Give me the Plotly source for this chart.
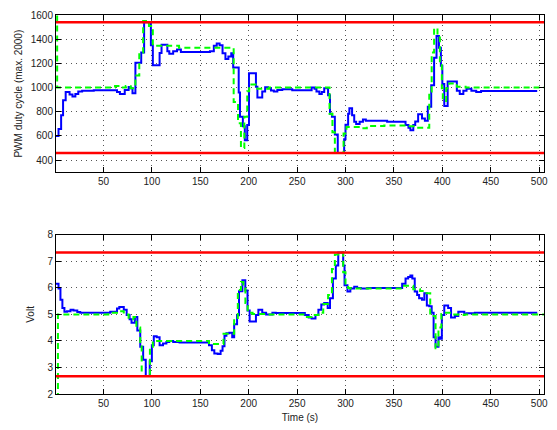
import plotly.graph_objects as go

# ---------------- data ----------------
# PWM duty cycle (top), staircase change points
pwm_t = [1, 3.6, 6.3, 8.3, 11, 15, 18, 21, 24, 28, 40, 64, 67, 72, 76, 78, 80, 83, 89, 92,
         99, 101, 108, 110, 116, 118, 122, 126, 130, 160, 164, 167, 170, 173, 176, 179, 182,
         184, 189.7, 191, 194, 196, 198.5, 200.3, 207.5, 209, 214, 217, 220, 223, 226, 229.6,
         234.7, 245, 265, 268, 270, 273, 275.5, 278, 282, 284, 286, 289, 292, 298.6, 300,
         302.7, 304, 306.8, 309, 311, 314.6, 318, 321, 325, 343, 362, 365, 367, 370, 372,
         375, 379, 382, 385, 388.5, 391.5, 394, 396.5, 398.5, 400, 402, 405.5, 415, 418,
         421.7, 425, 430, 435, 440, 498]
pwm_v = [600, 658, 771, 895, 963, 942, 926, 947, 968, 974, 979, 963, 947, 981, 1005, 995, 953,
         1205, 1290, 1540, 1350, 1185, 1286, 1354, 1300, 1280, 1300, 1315, 1294, 1300, 1346,
         1365, 1350, 1284, 1237, 1258, 1284, 1166, 960, 758, 680, 565, 690, 1118, 1008, 918,
         968, 1003, 995, 976, 968, 981, 987, 979, 1000, 990, 968, 947, 963, 995, 937, 784,
         758, 613, 460, 574, 692, 784, 829, 771, 718, 700, 718, 737, 726, 725, 718, 690, 668,
         647, 690, 720, 779, 745, 725, 842, 1020, 1246, 1427, 1330, 1180, 1030, 847, 1050,
         974, 947, 974, 990, 974, 963, 971, 971]

pwm_ref_t = [1, 2.2, 62, 69, 73, 78, 83, 87, 91, 97, 101, 128, 184.5, 189, 192, 195.5, 198.5,
             200.5, 209, 221, 283.5, 286.5, 289, 298, 301, 316, 322, 340, 363, 372, 386.5,
             389, 391.5, 395, 397.5, 399.5, 400.5, 404, 407, 415, 424, 505]
pwm_ref_v = [2000, 1000, 1013, 1000, 1013, 995, 1100, 1290, 1550, 1510, 1345, 1330, 880, 705,
             500, 760, 970, 1025, 990, 1000, 784, 630, 460, 620, 674, 663, 682, 687, 680, 668,
             968, 1290, 1490, 1415, 1205, 995, 890, 995, 1034, 1008, 1000, 1000]

pwm_limits = [460, 1540]

# Voltage (bottom)
volt_t = [1, 3.6, 5.6, 7.6, 9.7, 12.4, 16, 19, 23, 26, 57, 64, 66.4, 71, 74, 77, 79, 82.5, 85,
          88, 91, 93.7, 97.8, 100, 102, 105, 108, 111.5, 115, 118, 122, 128.6, 159, 162, 164.5,
          168, 171, 173, 175, 177, 180, 183, 185, 188, 190, 193.5, 196.5, 198.8, 201, 207.5,
          210, 214, 218, 224.5, 228, 258, 262, 265, 269, 272, 275, 278, 281.6, 284, 287, 290,
          292.5, 297.6, 299, 302, 305, 309, 312, 316, 323, 358.5, 362, 364.7, 367, 369, 371.5,
          374, 376, 379, 381.4, 384, 386.5, 389, 391, 393, 396, 398, 399.5, 402, 406, 409,
          413, 416.5, 422.7, 425, 433.6, 498]
volt_v = [6.16, 5.98, 5.55, 5.24, 5.10, 5.12, 5.18, 5.15, 5.09, 5.06, 5.10, 5.22, 5.28, 5.18,
          4.98, 4.82, 4.69, 4.90, 4.39, 3.78, 3.29, 2.68, 3.23, 3.84, 4.18, 4.14, 3.84, 3.90,
          3.96, 4.00, 3.96, 3.94, 3.84, 3.65, 3.53, 3.51, 3.63, 3.80, 4.20, 4.29, 4.31, 4.14,
          4.63, 4.97, 5.87, 6.29, 5.90, 5.15, 4.73, 4.98, 5.18, 5.06, 5.00, 5.06, 5.05, 4.98,
          4.88, 4.85, 4.98, 5.18, 5.37, 5.43, 5.24, 5.61, 6.35, 6.84, 7.33, 6.84, 6.10, 5.86,
          5.98, 6.04, 6.00, 5.98, 6.00, 6.16, 6.35, 6.41, 6.47, 6.35, 5.86, 5.73, 5.61, 5.55,
          5.80, 5.34, 5.31, 5.06, 4.14, 3.78, 4.14, 4.08, 4.98, 5.34, 5.24, 4.88, 4.94, 5.10,
          5.02, 5.04, 5.06, 5.06]

volt_ref_t = [1, 3, 55, 64, 71, 76, 81, 84, 88, 89.5, 96, 98, 101, 159, 174, 185, 188.8, 192,
              194.5, 196.6, 199, 204, 218, 258, 265, 272, 277, 282, 286, 289, 292.5, 297.6,
              300, 302.7, 305, 358.5, 370, 377, 382, 387.5, 393, 396, 399, 401, 410, 416.5,
              423, 505]
volt_ref_v = [0, 5.0, 5.06, 5.12, 5.0, 4.82, 4.9, 4.51, 3.9, 2.68, 2.68, 3.78, 4.0, 3.88, 4.27,
              4.82, 5.92, 6.22, 5.98, 5.43, 5.06, 5.02, 5.00, 4.90, 4.98, 5.06, 5.39, 5.73,
              6.71, 7.26, 7.33, 6.59, 6.10, 6.00, 5.98, 6.08, 5.95, 5.88, 5.80, 4.94, 3.72,
              4.51, 5.02, 5.06, 5.00, 4.98, 5.00, 5.00]

volt_limits = [2.67, 7.33]

x_range = [1, 505]
x_ticks = [50, 100, 150, 200, 250, 300, 350, 400, 450, 500]
pwm_ticks = [400, 600, 800, 1000, 1200, 1400, 1600]
volt_ticks = [2, 3, 4, 5, 6, 7, 8]

# ---------------- figure ----------------
BLUE = "#0000ff"
GREEN = "#00ff00"
RED = "#ff0000"

fig = go.Figure()


def add_panel(xa, ya, t, v, rt, rv, limits):
    fig.add_trace(go.Scatter(x=t, y=v, mode="lines", line=dict(color=BLUE, width=2, shape="hv"),
                             xaxis=xa, yaxis=ya, showlegend=False))
    fig.add_trace(go.Scatter(x=rt, y=rv, mode="lines",
                             line=dict(color=GREEN, width=2, shape="hv", dash="6px,4px"),
                             xaxis=xa, yaxis=ya, showlegend=False))
    for lim in limits:
        fig.add_trace(go.Scatter(x=x_range, y=[lim, lim], mode="lines",
                                 line=dict(color=RED, width=2.5),
                                 xaxis=xa, yaxis=ya, showlegend=False))


add_panel("x", "y", pwm_t, pwm_v, pwm_ref_t, pwm_ref_v, pwm_limits)
add_panel("x2", "y2", volt_t, volt_v, volt_ref_t, volt_ref_v, volt_limits)

FONT = dict(family="Liberation Sans, Arial, Helvetica, sans-serif", size=10, color="#222222")

axis_common = dict(
    showline=True, linecolor="black", linewidth=1, mirror="ticks",
    ticks="inside", ticklen=5, tickcolor="black",
    showgrid=True, gridcolor="#555555", griddash="1px,4px", gridwidth=1,
    zeroline=False, tickfont=FONT,
)

fig.update_layout(
    width=557, height=430,
    margin=dict(l=56, r=9, t=9, b=28),
    paper_bgcolor="white", plot_bgcolor="white",
    font=FONT,
    xaxis=dict(domain=[0, 1], anchor="y", range=x_range, tickvals=x_ticks, **axis_common),
    yaxis=dict(domain=[0.585, 1], anchor="x", range=[300, 1600], tickvals=pwm_ticks,
               title=dict(text="PWM duty cycle (max. 2000)", font=FONT, standoff=6),
               **axis_common),
    xaxis2=dict(domain=[0, 1], anchor="y2", range=x_range, tickvals=x_ticks,
                title=dict(text="Time (s)", font=FONT, standoff=5), **axis_common),
    yaxis2=dict(domain=[0, 0.42], anchor="x2", range=[2, 8], tickvals=volt_ticks,
                title=dict(text="Volt", font=FONT, standoff=10), **axis_common),
)

fig.write_html("out.html")
